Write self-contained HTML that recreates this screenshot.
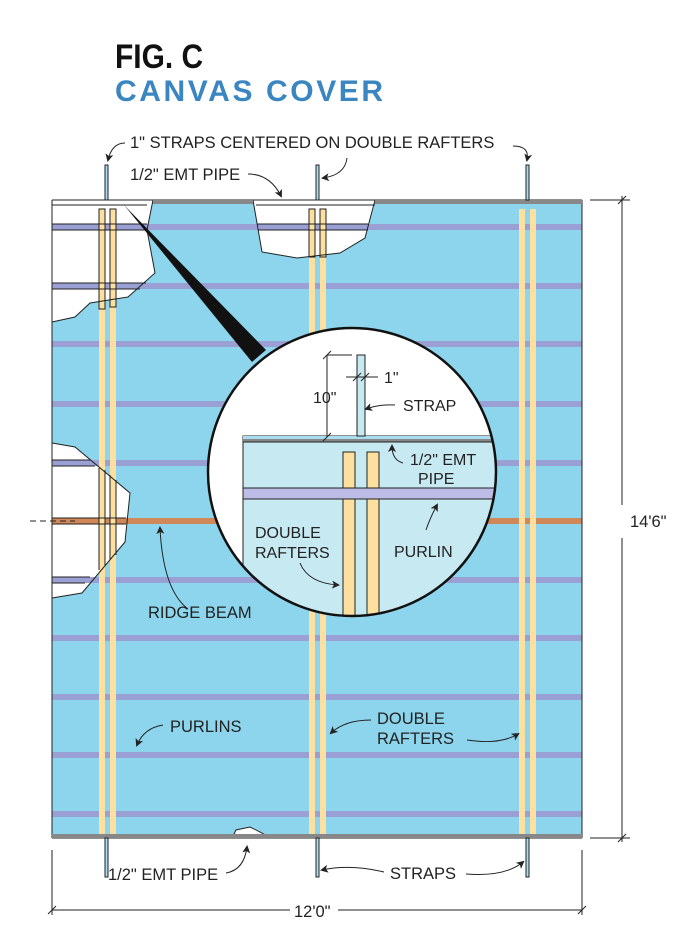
<!DOCTYPE html>
<html><head><meta charset="utf-8"><style>
html,body{margin:0;padding:0;background:#fff;}
svg{display:block;}
text{font-family:"Liberation Sans",sans-serif;fill:#222;}
</style></head><body>
<svg width="682" height="930" viewBox="0 0 682 930" xmlns="http://www.w3.org/2000/svg">
<defs>
<marker id="ah" markerWidth="8" markerHeight="8" refX="6" refY="4" orient="auto" markerUnits="userSpaceOnUse">
<path d="M0,0 L8,4 L0,8 L2,4 Z" fill="#222"/></marker>
<clipPath id="cc"><circle cx="352" cy="472" r="144"/></clipPath>
</defs>
<text x="115" y="68" font-size="34" font-weight="bold" style="fill:#111" transform="scale(0.88,1)" transform-origin="115 68">FIG. C</text>
<text x="115" y="101" font-size="30" font-weight="bold" style="fill:#3a86c0" letter-spacing="2.6">CANVAS COVER</text>

<rect x="52" y="200" width="530" height="638" fill="#8dd5ec"/>
<polygon points="52,200 153,200 147,230 155,273 128,297 90,303 75,317 52,322" fill="#fff"/>
<polygon points="253,200 262,252 297,258 340,253 365,238 375,200" fill="#fff"/>
<polygon points="52,443 75,447 130,493 125,542 82,593 52,598" fill="#fff"/>
<polygon points="232,838 236,830 250,827 262,833 270,838" fill="#fff"/>
<g fill="#9a9fd4">
<rect x="52" y="224" width="530" height="6"/>
<rect x="52" y="283" width="530" height="6"/>
<rect x="52" y="341" width="530" height="6"/>
<rect x="52" y="401" width="530" height="6"/>
<rect x="52" y="460" width="530" height="6"/>
<rect x="52" y="577" width="530" height="6"/>
<rect x="52" y="635" width="530" height="6"/>
<rect x="52" y="694" width="530" height="6"/>
<rect x="52" y="752" width="530" height="6"/>
<rect x="52" y="811" width="530" height="6"/>
</g>
<rect x="52" y="518" width="530" height="6" fill="#d08858"/>
<g fill="#fde0a0">
<rect x="99" y="209" width="6" height="627"/><rect x="110" y="209" width="6" height="627"/>
<rect x="309" y="209" width="6" height="627"/><rect x="320" y="209" width="6" height="627"/>
<rect x="519" y="209" width="6" height="627"/><rect x="530" y="209" width="6" height="627"/>
</g>
<g fill="none" stroke="#222" stroke-width="1">
<rect x="99" y="209" width="6" height="100"/><rect x="110" y="209" width="6" height="98"/>
<rect x="309" y="209" width="6" height="48"/><rect x="320" y="209" width="6" height="48"/>
<line x1="52" y1="224" x2="147" y2="224"/><line x1="52" y1="230" x2="147" y2="230"/>
<line x1="52" y1="283" x2="146" y2="283"/><line x1="52" y1="289" x2="140" y2="289"/>
<line x1="257" y1="224" x2="368" y2="224"/><line x1="258" y1="230" x2="368" y2="230"/>
<line x1="99" y1="468" x2="99" y2="570"/><line x1="105" y1="470" x2="105" y2="565"/>
<line x1="110" y1="475" x2="110" y2="560"/><line x1="116" y1="480" x2="116" y2="555"/>
<line x1="52" y1="460" x2="90" y2="460"/><line x1="52" y1="466" x2="95" y2="466"/>
<line x1="52" y1="518" x2="126" y2="518"/><line x1="52" y1="524" x2="126" y2="524"/>
<line x1="52" y1="577" x2="90" y2="577"/><line x1="52" y1="583" x2="85" y2="583"/>
<polyline points="52,200 153,200 147,230 155,273 128,297 90,303 75,317 52,322"/>
<polyline points="253,200 262,252 297,258 340,253 365,238 375,200"/>
<polyline points="52,443 75,447 130,493 125,542 82,593 52,598"/>
<polyline points="232,838 236,830 250,827 262,833 270,838"/>
<line x1="52" y1="200" x2="52" y2="838"/>
<line x1="582" y1="200" x2="582" y2="838"/>
<line x1="52" y1="838" x2="582" y2="838"/>
<line x1="52" y1="200" x2="582" y2="200"/>
<line x1="52" y1="205" x2="147" y2="205"/><line x1="256" y1="205" x2="375" y2="205"/>
</g>
<rect x="153" y="200" width="100" height="4" fill="#888"/>
<rect x="375" y="200" width="207" height="4" fill="#888"/>
<rect x="52" y="834" width="530" height="4" fill="#888"/>
<line x1="30" y1="521" x2="75" y2="521" stroke="#222" stroke-dasharray="6,4"/>

<g fill="#a9ddf0" stroke="#222" stroke-width="1">
<rect x="105" y="165" width="3" height="35"/><rect x="316" y="165" width="3" height="35"/><rect x="526" y="165" width="3" height="35"/>
<rect x="105" y="838" width="3" height="39"/><rect x="316" y="838" width="3" height="39"/><rect x="526" y="838" width="3" height="39"/>
</g>

<polygon points="124,205 266,350 252,362" fill="#111"/>

<circle cx="352" cy="472" r="144" fill="#fff"/>
<g clip-path="url(#cc)">
<rect x="243" y="436" width="260" height="200" fill="#c7e9f2" stroke="#222"/>
<rect x="243" y="436" width="260" height="3" fill="#a9ddf0"/>
<rect x="243" y="439" width="260" height="3" fill="#888"/>
<line x1="243" y1="442" x2="503" y2="442" stroke="#222"/>
<rect x="343" y="452" width="12" height="200" fill="#fde0a0" stroke="#222"/>
<rect x="367" y="452" width="12" height="200" fill="#fde0a0" stroke="#222"/>
<rect x="243" y="488" width="260" height="11" fill="#bcbce6" stroke="#222"/>
</g>
<rect x="357" y="355" width="8" height="81" fill="#c7e9f2" stroke="#222"/>
<circle cx="352" cy="472" r="144" fill="none" stroke="#111" stroke-width="2.5"/>
<g stroke="#222" stroke-width="1" fill="none">
<line x1="327" y1="355" x2="327" y2="437"/>
<line x1="327" y1="355" x2="352" y2="355"/>
<line x1="323" y1="359" x2="331" y2="351"/><line x1="323" y1="441" x2="331" y2="433"/>
<line x1="346" y1="377" x2="378" y2="377"/>
<line x1="353" y1="381" x2="361" y2="373"/><line x1="361" y1="381" x2="369" y2="373"/>
<path d="M395,405 Q380,404 366,409" marker-end="url(#ah)"/>
<path d="M403,463 Q392,460 392,446" marker-end="url(#ah)"/>
<path d="M426,530 Q430,518 437,505" marker-end="url(#ah)"/>
<path d="M300,563 Q308,583 338,585" marker-end="url(#ah)"/>
</g>
<g font-size="16">
<text x="313" y="403">10"</text>
<text x="384" y="383">1"</text>
<text x="403" y="411">STRAP</text>
<text x="410" y="465">1/2" EMT</text>
<text x="418" y="484">PIPE</text>
<text x="255" y="538">DOUBLE</text>
<text x="255" y="558">RAFTERS</text>
<text x="394" y="557">PURLIN</text>
</g>

<g stroke="#222" stroke-width="1" fill="none">
<path d="M125,143 Q112,143 108,160" marker-end="url(#ah)"/>
<path d="M513,146 Q530,146 527,160" marker-end="url(#ah)"/>
<path d="M347,158 Q345,175 323,178" marker-end="url(#ah)"/>
<path d="M248,174 Q270,174 281,196" marker-end="url(#ah)"/>
<path d="M188,609 Q163,590 160,528" marker-end="url(#ah)"/>
<path d="M163,725 Q144,728 137,745" marker-end="url(#ah)"/>
<path d="M371,720 Q345,720 331,733" marker-end="url(#ah)"/>
<path d="M467,740 Q500,745 518,734" marker-end="url(#ah)"/>
<path d="M226,873 Q244,870 247,847" marker-end="url(#ah)"/>
<path d="M384,872 Q350,864 322,870" marker-end="url(#ah)"/>
<path d="M466,874 Q505,877 523,862" marker-end="url(#ah)"/>
</g>
<g font-size="16.5">
<text x="130" y="148">1" STRAPS CENTERED ON DOUBLE RAFTERS</text>
<text x="130" y="180">1/2" EMT PIPE</text>
<text x="148" y="618">RIDGE BEAM</text>
<text x="170" y="732">PURLINS</text>
<text x="377" y="724">DOUBLE</text>
<text x="377" y="744">RAFTERS</text>
<text x="108" y="880">1/2" EMT PIPE</text>
<text x="390" y="879">STRAPS</text>
<text x="294" y="917">12'0"</text>
<text x="630" y="527">14'6"</text>
</g>
<g stroke="#222" stroke-width="1">
<line x1="52" y1="850" x2="52" y2="915"/><line x1="582" y1="850" x2="582" y2="915"/>
<line x1="52" y1="910" x2="290" y2="910"/><line x1="338" y1="910" x2="582" y2="910"/>
<line x1="48" y1="914" x2="56" y2="906"/><line x1="578" y1="914" x2="586" y2="906"/>
<line x1="590" y1="200" x2="630" y2="200"/><line x1="590" y1="838" x2="630" y2="838"/>
<line x1="622" y1="196" x2="622" y2="505"/><line x1="622" y1="538" x2="622" y2="842"/>
<line x1="618" y1="204" x2="626" y2="196"/><line x1="618" y1="842" x2="626" y2="834"/>
</g>
</svg>
</body></html>
